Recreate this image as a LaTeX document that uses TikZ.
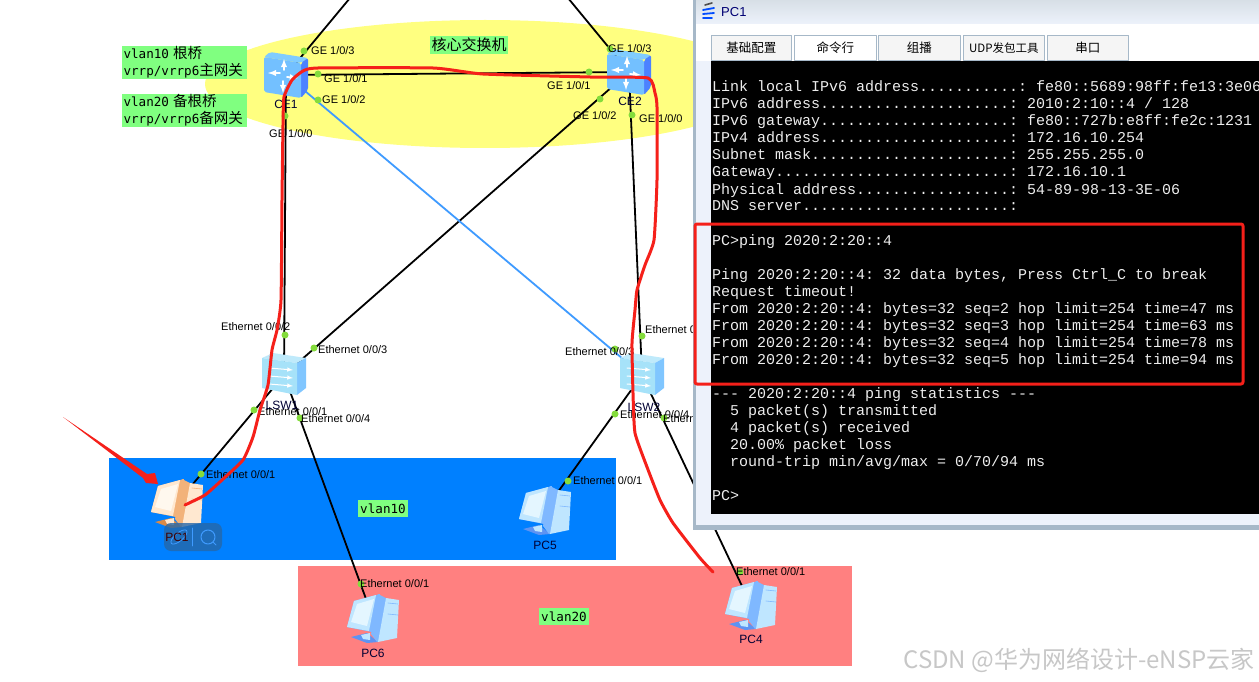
\documentclass[tikz,border=0pt]{standalone}
\usepackage{fontspec}
\setmainfont{Liberation Sans}
\newfontfamily\cjk{Noto Sans CJK SC}
\newfontfamily\tagmono{DejaVu Sans Mono}
\newfontfamily\consolemono{Liberation Mono}
\newcommand{\tagcjk}[1]{{\cjk\fontsize{14.5}{16}\selectfont #1}}
\definecolor{tagGreen}{HTML}{80FF80}
\definecolor{coreYellow}{HTML}{FFFF80}
\definecolor{vlanBlue}{HTML}{0080FF}
\definecolor{vlanPink}{HTML}{FF8080}
\definecolor{portGreen}{HTML}{84DC3C}
\definecolor{linkBlue}{HTML}{3F9BFF}
\definecolor{markRed}{HTML}{F5201A}
\definecolor{winFrame}{HTML}{A6B8C8}
\definecolor{winPale}{HTML}{EDF2FB}
\definecolor{pcblueBody}{HTML}{BFE6FF}
\definecolor{pcblueSide}{HTML}{7FB8FF}
\definecolor{pcblueDark}{HTML}{5E93F2}
\definecolor{pcblueGlass}{HTML}{E4F6FF}
\definecolor{pcorangeBody}{HTML}{FFE8D0}
\definecolor{pcorangeSide}{HTML}{F2B27A}
\definecolor{pcorangeDark}{HTML}{D98A48}
\definecolor{pcorangeGlass}{HTML}{FFF8EE}
\tikzset{
  pcicon/.pic={
    \fill[#1Dark] (-22,19) -- (-6,15) -- (5,24) -- (-6,25) -- cycle;
    \fill[#1Body] (-12,17) -- (-3,15) -- (-3,22) -- (-10,21) -- cycle;
    \fill[#1Side] (5,-24) -- (13,-20) -- (14,20) -- (4,24) -- (-2,16) -- cycle;
    \fill[#1Body] (13,-20) -- (26,-18) -- (24,20) -- (5,24) -- cycle;
    \draw[#1Side,line width=.6pt] (15,-15) -- (25,-14) (15,-4) -- (25,-3);
    \fill[#1Side] (-26,9) -- (-19,-17) -- (7,-24) -- (-1,14) -- cycle;
    \fill[#1Body] (-26,9) -- (-19,-17) -- (3,-23) -- (-4,13) -- cycle;
    \fill[#1Glass] (-22,4) -- (-16,-14) -- (1,-19) -- (-6,8) -- cycle;
  },
  coresw/.pic={
    \fill[rounded corners=2pt,fill=blue!40!cyan!50!white] (-22,-18) -- (-16,-23) -- (22,-17) -- (15,-12) -- cycle;
    \fill[rounded corners=2pt,fill=blue!70!cyan!70!white] (15,-12) -- (22,-17) -- (22,15) -- (15,23) -- cycle;
    \fill[rounded corners=2pt,fill=blue!45!cyan!55!white] (-22,-18) -- (15,-12) -- (15,23) -- (-22,17) -- cycle;
    \draw[white,line width=1.8pt,-latex] (-6,-2) -- (-18,-2);
    \draw[white,line width=1.8pt,-latex] (-2,-5) -- (-2,-16);
    \draw[white,line width=1.8pt,-latex] (1,2) -- (12,3);
    \draw[white,line width=1.8pt,-latex] (-3,6) -- (-3,18);
  },
  accsw/.pic={
    \fill[cyan!25!white] (-22,-17) -- (-11,-22) -- (22,-17) -- (13,-12) -- cycle;
    \fill[blue!45!cyan!50!white] (13,-12) -- (22,-17) -- (22,13) -- (13,20) -- cycle;
    \fill[cyan!35!white] (-22,-17) -- (13,-12) -- (13,20) -- (-22,13) -- cycle;
    \foreach \k in {-7,1,9}
      \draw[white,line width=1pt,-latex] (-15,\k) -- (9,\k+2);
  }
}
\begin{document}
\begin{tikzpicture}[x=1pt,y=-1pt,line cap=round,line join=round,>=latex,
  devspot/.style={inner sep=0pt,minimum size=1pt},
  wire/.style={line width=1.8pt,black},
  port/.style={circle,fill=portGreen,inner sep=0pt,minimum size=7pt},
  portlbl/.style={anchor=west,inner sep=0pt,font=\fontsize{11}{12}\selectfont},
  devlbl/.style={inner sep=0pt,text=black!80!blue,font=\fontsize{12}{13}\selectfont},
  greentag/.style={fill=tagGreen,inner sep=0pt,font=\fontsize{12.6}{17}\tagmono\selectfont},
  conline/.style={anchor=base west,inner sep=0pt,text=white!93!black,font=\frenchspacing\fontsize{15}{17}\consolemono\selectfont},
  tabbox/.style={draw=winFrame,fill=black!4,line width=.8pt,minimum height=25pt,inner sep=0pt,anchor=north west,font=\fontsize{12.5}{14}\cjk\selectfont},
  redmark/.style={draw=markRed,line width=3pt}]
  \path[use as bounding box,clip] (0,0) rectangle (1259,682);
  \fill[white] (0,0) rectangle (1259,682);
  \fill[coreYellow] (485,84) ellipse (280 and 64);
  \fill[vlanBlue] (109,458) rectangle (616,560);
  \fill[vlanPink] (298,566) rectangle (852,666);
  % devices
  \node[devspot] (ce1) at (286,75) {};
  \node[devspot] (ce2) at (629,72) {};
  \node[devspot] (lsw1) at (284,375) {};
  \node[devspot] (lsw2) at (642,375) {};
  \node[devspot] (pc1) at (177,503) {};
  \node[devspot] (pc5) at (545,510) {};
  \node[devspot] (pc6) at (373,618) {};
  \node[devspot] (pc4) at (751,605) {};
  \coordinate (topa) at (350,-2);
  \coordinate (topb) at (568,-2);
  % links
  \draw[wire] (ce1) -- (topa);
  \draw[wire] (ce2) -- (topb);
  \draw[wire] (ce1) -- (ce2);
  \draw[wire] (ce1) -- (lsw1);
  \draw[wire] (ce2) -- (lsw1);
  \draw[wire] (ce2) -- (lsw2);
  \draw[line width=1.8pt,linkBlue] (ce1) -- (lsw2);
  \draw[wire] (lsw1) -- (pc1);
  \draw[wire] (lsw1) -- (pc6);
  \draw[wire] (lsw2) -- (pc5);
  \draw[wire] (lsw2) -- (pc4);
  \pic at (ce1) {coresw};
  \pic at (ce2) {coresw};
  \pic at (lsw1) {accsw};
  \pic at (lsw2) {accsw};
  \pic at (pc1) {pcicon=pcorange};
  \pic at (pc5) {pcicon=pcblue};
  \pic at (pc6) {pcicon=pcblue};
  \pic at (pc4) {pcicon=pcblue};
  % search widget over PC1
  \fill[rounded corners=7pt,blue!50!cyan!60!black!85!white,opacity=.8] (164,523) rectangle (222,551);
  \draw[linkBlue,line width=1pt] (208,537) circle (7);
  \draw[linkBlue,line width=1pt] (213,542) -- (216,545);
  \draw[linkBlue,line width=.6pt] (192,528) -- (192,546);
  \draw[linkBlue,line width=.8pt,rotate around={40:(179,537)}] (179,537) ellipse (10 and 4);
  % ports
  \foreach \nm/\px/\py/\lx/\ly/\txt in {
    ceaa/304/51/311/51/{GE 1/0/3},
    ceab/318/74/324/79/{GE 1/0/1},
    ceac/318/100/322/100/{GE 1/0/2},
    cead/285/116/269/134/{GE 1/0/0},
    ceba/610/49/608/49/{GE 1/0/3},
    cebb/589/72/547/86/{GE 1/0/1},
    cebc/600/99/573/116/{GE 1/0/2},
    cebd/632/115/639/119/{GE 1/0/0},
    swaa/285/335/221/327/{Ethernet 0/0/2},
    swab/314/348/318/350/{Ethernet 0/0/3},
    swac/254/410/258/412/{Ethernet 0/0/1},
    swad/300/418/301/419/{Ethernet 0/0/4},
    swba/642/336/645/330/{Ethernet 0/0/2},
    swbb/615/349/565/352/{Ethernet 0/0/3},
    swbc/615/414/620/415/{Ethernet 0/0/4},
    swbd/664/418/663/419/{Ethernet 0/0/4},
    pcaa/201/474/206/475/{Ethernet 0/0/1},
    pcba/568/481/573/481/{Ethernet 0/0/1},
    pcca/361/584/360/584/{Ethernet 0/0/1},
    pcda/740/572/736/572/{Ethernet 0/0/1}} {
    \node[port] (\nm) at (\px,\py) {};
    \node[portlbl] (\nm lbl) at (\lx,\ly) {\txt};
  }
  % names
  \node[devlbl] (ce1name) at (286,104) {CE1};
  \node[devlbl] (ce2name) at (630,101) {CE2};
  \node[devlbl] (lsw1name) at (282,405) {LSW1};
  \node[devlbl] (lsw2name) at (644,407) {LSW2};
  \node[devlbl,text=black!75!red] (pc1name) at (177,537) {PC1};
  \node[devlbl] (pc5name) at (545,545) {PC5};
  \node[devlbl] (pc6name) at (373,653) {PC6};
  \node[devlbl] (pc4name) at (751,639) {PC4};
  % green tags
  \node[greentag,minimum width=125pt,minimum height=33pt,align=left,text width=122pt] (roota) at (184.5,62.5)
    {vlan10 \tagcjk{根桥}\\vrrp/vrrp6\tagcjk{主网关}};
  \node[greentag,minimum width=125pt,minimum height=33pt,align=left,text width=122pt] (rootb) at (184.5,110.5)
    {vlan20 \tagcjk{备根桥}\\vrrp/vrrp6\tagcjk{备网关}};
  \node[greentag,minimum width=78pt,minimum height=18pt,font=\fontsize{15}{16}\cjk\selectfont] (coretag) at (469,45) {核心交换机};
  \node[greentag,minimum width=50pt,minimum height=17pt] (tag10) at (383,508.5) {vlan10};
  \node[greentag,minimum width=50pt,minimum height=17pt] (tag20) at (564,616.5) {vlan20};
  % PC1 window
  \fill[winFrame] (693,-2) rectangle (1262,530);
  \fill[winPale] (696,0) rectangle (1262,525);
  \shade[top color=winFrame!45!white,bottom color=winPale] (696,0) rectangle (1262,24);
  \fill[white] (696,24) rectangle (1262,61);
  \node[inner sep=0pt,anchor=west,text=blue!45!black,font=\fontsize{13}{15}\selectfont] (wintitle) at (721,12) {PC1};
  \draw[black!70,line width=1.6pt] (705,5) -- (712,3);
  \draw[blue!70!cyan,line width=1.8pt] (703,10) -- (714,8) (703,14) -- (714,13) (703,18) -- (712,18);
  \node[tabbox,minimum width=80pt] (tabcfg) at (711,35) {基础配置};
  \node[tabbox,minimum width=82pt,fill=white] (tabcmd) at (794,35) {命令行};
  \node[tabbox,minimum width=82pt] (tabmc) at (878,35) {组播};
  \node[tabbox,minimum width=81pt,font=\fontsize{11.5}{14}\cjk\selectfont] (tabudp) at (963,35) {UDP发包工具};
  \node[tabbox,minimum width=81pt] (tabser) at (1047,35) {串口};
  \fill[black] (711,61) rectangle (1262,514);
  \foreach \y/\t in {
    92/{Link local IPv6 address...........: fe80::5689:98ff:fe13:3e06},
    109/{IPv6 address.....................: 2010:2:10::4 / 128},
    126/{IPv6 gateway.....................: fe80::727b:e8ff:fe2c:1231},
    143/{IPv4 address.....................: 172.16.10.254},
    160/{Subnet mask......................: 255.255.255.0},
    177/{Gateway..........................: 172.16.10.1},
    194/{Physical address.................: 54-89-98-13-3E-06},
    211/{DNS server.......................:},
    245/{PC>ping 2020:2:20::4},
    279/{Ping 2020:2:20::4: 32 data bytes, Press Ctrl\_C to break},
    296/{Request timeout!},
    313/{From 2020:2:20::4: bytes=32 seq=2 hop limit=254 time=47 ms},
    330/{From 2020:2:20::4: bytes=32 seq=3 hop limit=254 time=63 ms},
    347/{From 2020:2:20::4: bytes=32 seq=4 hop limit=254 time=78 ms},
    364/{From 2020:2:20::4: bytes=32 seq=5 hop limit=254 time=94 ms},
    398/{--- 2020:2:20::4 ping statistics ---},
    500/{PC>}}
    \node[conline] (con\y) at (712,\y) {\t};
  \foreach \y/\t in {
    415/{5 packet(s) transmitted},
    432/{4 packet(s) received},
    449/{20.00\% packet loss},
    466/{round-trip min/avg/max = 0/70/94 ms}}
    \node[conline] (con\y) at (730,\y) {\t};
  % red marks
  \draw[redmark,rounded corners=2pt] (695,224) rectangle (1243,384);
  \draw[redmark] plot[smooth,tension=.3] coordinates {(185,505) (205,495) (222,480) (243,460) (253,437) (260,410)
    (268,385) (272,350) (277,330) (281,300) (282,200) (283,125) (284,97) (292,80) (303,71) (318,68) (433,68)
    (483,74) (590,77) (648,78) (655,93) (657,107) (657,180) (654,240) (645,265) (637,290) (635,310) (632,343)
    (633,393) (635,433) (647,467) (660,500) (673,523) (700,558) (713,572)};
  \fill[markRed] (63,417) -- (147,474) -- (155,473) -- (158,484) -- (146,483) -- (143,478) -- cycle;
  \node[inner sep=0pt,anchor=east,text=black!22,font=\fontsize{24}{26}\cjk\selectfont] (mark) at (1255,660) {CSDN @华为网络设计-eNSP云家};
\end{tikzpicture}
\end{document}
